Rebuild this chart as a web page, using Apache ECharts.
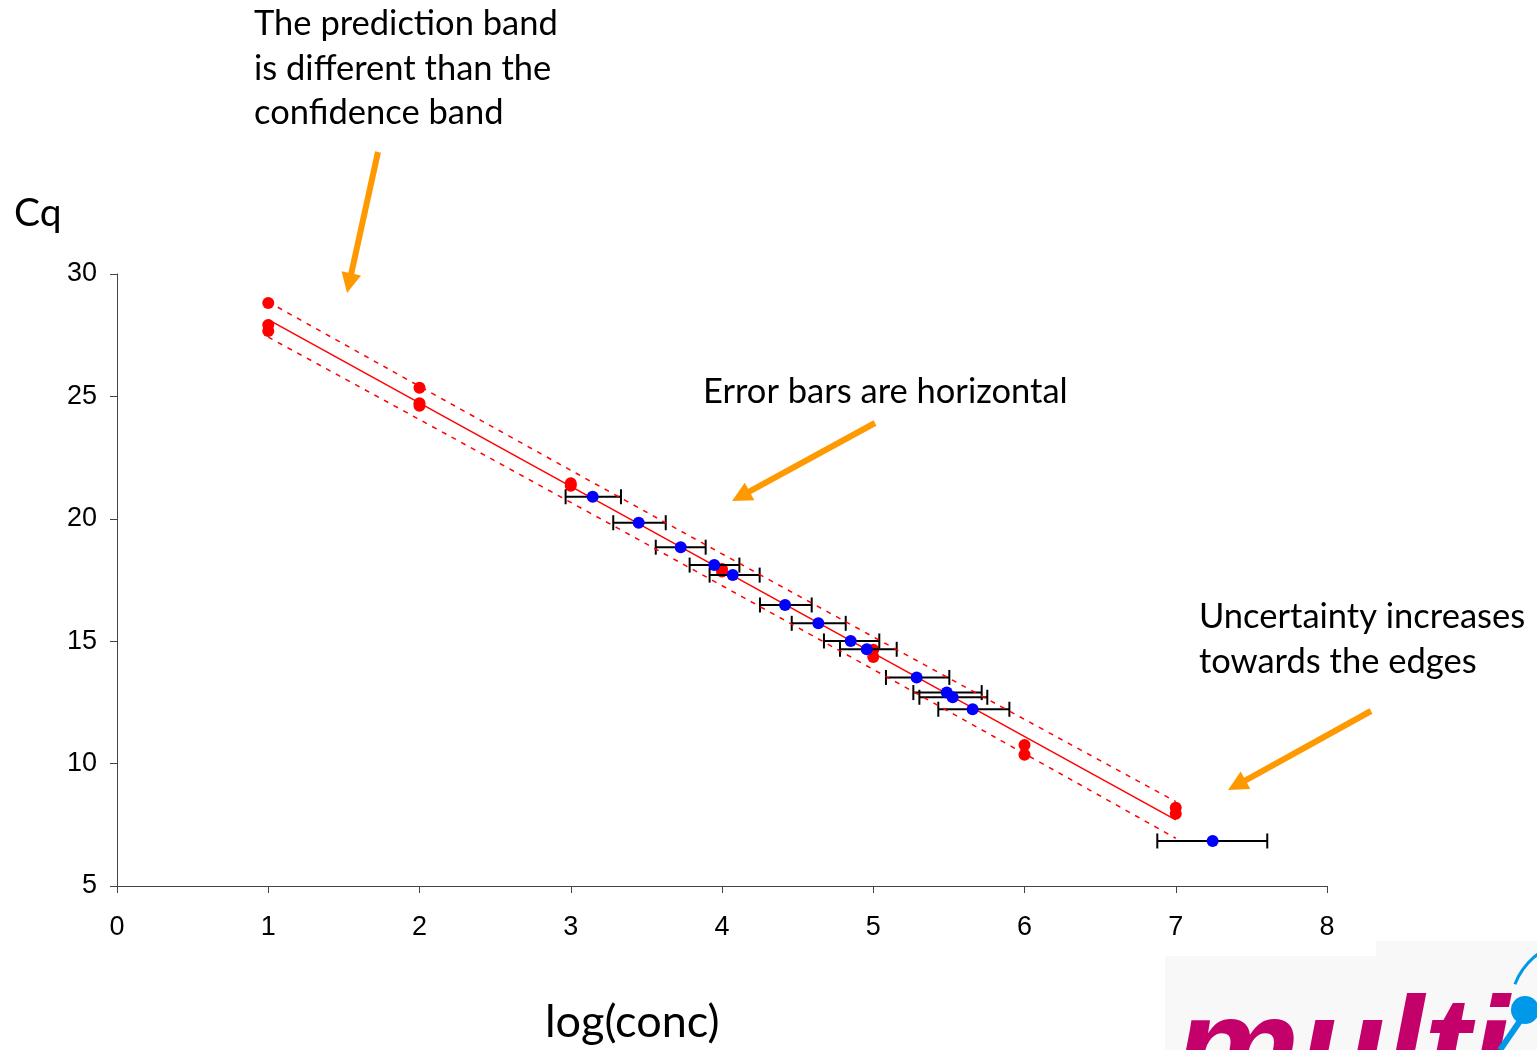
<!DOCTYPE html>
<html>
<head>
<meta charset="utf-8">
<title>Cq vs log(conc)</title>
<script src="https://cdn.jsdelivr.net/npm/echarts@6/dist/echarts.min.js"></script>
<style>
  html, body { margin: 0; padding: 0; background: #fff; }
  #chart { width: 1537px; height: 1050px; }
</style>
</head>
<body>
<div id="chart"></div>
<script>
// standards (red) - replicates at each log(conc)
const redX = [1, 1, 1, 2, 2, 2, 3, 3, 4, 4, 5, 5, 6, 6, 7, 7]
const redY = [28.82, 27.92, 27.67, 25.35, 24.72, 24.62, 21.45, 21.35, 17.95, 17.85, 14.65, 14.35, 10.76, 10.36, 8.2, 7.95]

// unknowns (blue) with horizontal error bars
const blueX = [3.145, 3.449, 3.727, 3.949, 4.071, 4.417, 4.637, 4.851, 4.957, 5.287, 5.486, 5.525, 5.657, 7.244]
const blueY = [20.9, 19.84, 18.84, 18.11, 17.7, 16.48, 15.73, 15.01, 14.67, 13.52, 12.9, 12.71, 12.22, 6.84]
const blueLo = [2.966, 3.281, 3.562, 3.786, 3.918, 4.251, 4.461, 4.674, 4.78, 5.084, 5.265, 5.305, 5.43, 6.878]
const blueHi = [3.332, 3.628, 3.892, 4.115, 4.249, 4.593, 4.818, 5.04, 5.155, 5.503, 5.717, 5.754, 5.9, 7.605]

// regression line and prediction band
const fitX = [1, 7]
const fitY = [28.14, 7.7]
const bandX = [1, 4, 7]
const bandUpper = [28.86, 18.57, 8.45]
const bandLower = [27.42, 17.27, 6.95]

// axis ticks
const xTicks = [0, 1, 2, 3, 4, 5, 6, 7, 8]
const yTicks = [5, 10, 15, 20, 25, 30]

const orange = '#ff9900'
const textFont = 'Lato, "Open Sans", sans-serif'
const tickFont = '"Liberation Sans", Arial, sans-serif'

const zip = (xs, ys) => xs.map((x, i) => [x, ys[i]])

// simple arrow graphic: shaft + triangular head
function arrow(x1, y1, x2, y2) {
  const dx = x2 - x1, dy = y2 - y1
  const len = Math.sqrt(dx * dx + dy * dy)
  const ux = dx / len, uy = dy / len
  const head = 20, half = 10
  const bx = x2 - ux * head, by = y2 - uy * head
  return {
    type: 'group',
    children: [
      { type: 'line', shape: { x1, y1, x2: bx + ux * 2, y2: by + uy * 2 }, style: { stroke: orange, lineWidth: 6 } },
      { type: 'polygon', shape: { points: [[x2, y2], [bx - uy * half, by + ux * half], [bx + uy * half, by - ux * half]] }, style: { fill: orange } }
    ]
  }
}

function label(text, left, top, size, lh) {
  return { type: 'text', left, top, style: { text, font: size + 'px ' + textFont, fill: '#000', lineHeight: lh || size } }
}

const chart = echarts.init(document.getElementById('chart'))
chart.setOption({
  animation: false,
  grid: { left: 117, right: 210, top: 274, bottom: 164 },
  xAxis: {
    type: 'value', min: 0, max: 8, interval: 1,
    axisLine: { lineStyle: { color: '#444', width: 1 } },
    axisTick: { length: 7, lineStyle: { color: '#444' } },
    axisLabel: { margin: 28, fontSize: 27, color: '#000', fontFamily: tickFont,
      formatter: (v) => xTicks.includes(v) ? String(v) : '' },
    splitLine: { show: false }
  },
  yAxis: {
    type: 'value', min: 5, max: 30, interval: 5,
    axisLine: { show: true, lineStyle: { color: '#444', width: 1 } },
    axisTick: { show: true, length: 7, lineStyle: { color: '#444' } },
    axisLabel: { margin: 20, fontSize: 27, color: '#000', fontFamily: tickFont,
      formatter: (v) => yTicks.includes(v) ? String(v) : '' },
    splitLine: { show: false }
  },
  series: [
    {
      type: 'line', data: zip(bandX, bandUpper), smooth: true, symbol: 'none', silent: true,
      lineStyle: { color: '#ff0000', width: 1.5, type: [5, 6] }
    },
    {
      type: 'line', data: zip(bandX, bandLower), smooth: true, symbol: 'none', silent: true,
      lineStyle: { color: '#ff0000', width: 1.5, type: [5, 6] }
    },
    {
      type: 'line', data: zip(fitX, fitY), symbol: 'none', silent: true,
      lineStyle: { color: '#ff0000', width: 1.5 }
    },
    {
      type: 'scatter', data: zip(redX, redY), symbolSize: 12, itemStyle: { color: '#ff0000', opacity: 1 }
    },
    {
      type: 'custom',
      data: blueX.map((x, i) => [x, blueY[i], blueLo[i], blueHi[i]]),
      renderItem(params, api) {
        const y = api.value(1)
        const lo = api.coord([api.value(2), y])
        const hi = api.coord([api.value(3), y])
        const cap = 7.5
        const style = { stroke: '#000', lineWidth: 2 }
        return {
          type: 'group',
          children: [
            { type: 'line', shape: { x1: lo[0], y1: lo[1], x2: hi[0], y2: hi[1] }, style },
            { type: 'line', shape: { x1: lo[0], y1: lo[1] - cap, x2: lo[0], y2: lo[1] + cap }, style },
            { type: 'line', shape: { x1: hi[0], y1: hi[1] - cap, x2: hi[0], y2: hi[1] + cap }, style }
          ]
        }
      },
      z: 3
    },
    {
      type: 'scatter', data: zip(blueX, blueY), symbolSize: 12, itemStyle: { color: '#0000ff', opacity: 1 }, z: 4
    }
  ],
  graphic: [
    label('The prediction band\nis different than the\nconfidence band', 254, 2, 34.5, 44.5),
    label('Error bars are horizontal', 703, 370, 34.5, 44.5),
    label('Uncertainty increases\ntowards the edges', 1199, 595, 34.5, 44.5),
    label('Cq', 14, 194, 39),
    label('log(conc)', 545, 1000, 45),
    arrow(378, 152, 347, 293),
    arrow(875, 423, 732, 501),
    arrow(1371, 711, 1228, 790),
    // partial logo in the corner
    { type: 'rect', shape: { x: 1165, y: 956, width: 372, height: 94 }, style: { fill: '#f8f8f8' }, z: -1 },
    { type: 'rect', shape: { x: 1376, y: 941, width: 161, height: 20 }, style: { fill: '#f8f8f8' }, z: -1 },
    { type: 'text', x: 1175, y: 985, style: { text: 'multi', font: 'italic bold 140px "Liberation Sans", Arial, sans-serif', fill: '#c4006b' } },
    { type: 'circle', shape: { cx: 1525, cy: 1010, r: 14 }, style: { fill: '#0098e8' } },
    { type: 'line', shape: { x1: 1522, y1: 1018, x2: 1500, y2: 1050 }, style: { stroke: '#0098e8', lineWidth: 6 } },
    { type: 'arc', shape: { cx: 1580, cy: 1010, r: 70, startAngle: Math.PI * 1.12, endAngle: Math.PI * 1.42 }, style: { stroke: '#0098e8', lineWidth: 3, fill: 'none' } }
  ]
})
</script>
</body>
</html>
